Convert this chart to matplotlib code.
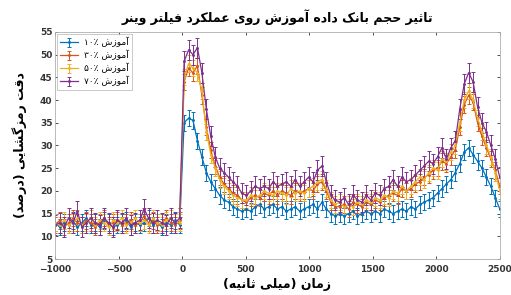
import numpy as np
import matplotlib
matplotlib.use("Agg")
import matplotlib.pyplot as plt

# ---------------- data ----------------
time_ms = np.arange(-1000, 2501, 35)  # 101 samples

acc_10 = [13, 12, 13, 12.5, 13.5, 12, 13, 14, 12.5, 13, 12, 13.5, 13, 12, 12.5, 13, 13.5, 12, 13, 12.5,
          13, 14, 12.5, 13, 12, 13, 12.5, 13.5, 12.5,
          35, 36, 35.5, 31, 27.5, 24, 22, 20.5, 19, 18, 17.5, 16.5, 16, 15.5, 16, 15.5, 16.5, 17, 16, 16.5,
          17, 16, 16.5, 15.5, 16, 16.5, 15.5, 16, 16.5, 17, 16, 17.5, 16, 15, 14.5, 15, 14.5, 15, 15.5,
          14.5, 15, 15.5, 15, 15.5, 15, 16, 15.5, 15, 15.5, 16, 15.5, 16.5, 16, 17, 17.5, 18, 18.5, 19.5,
          20.5, 21.5, 22.5, 24, 26, 28.5, 29.5, 28, 26.5, 25, 23, 21, 18.5, 16]
acc_30 = [12.5, 13.5, 12, 13, 14, 13, 12.5, 13.5, 13, 12, 13, 14, 12.5, 13, 13.5, 12.5, 13, 13.5, 12.5, 13,
          14.5, 13, 13.5, 12.5, 13, 14, 13, 12.5, 13.5,
          44, 47, 46, 47.5, 41, 34, 29, 25.5, 23, 21.5, 20.5, 19.5, 19, 18, 17.5, 18.5, 19, 18.5, 19.5, 19,
          20, 19, 20, 19.5, 19, 20, 19.5, 20, 20.5, 20, 21.5, 22, 20, 17.5, 16.5, 16.5, 17, 16, 17.5, 17,
          16.5, 17.5, 17, 18, 17.5, 18.5, 19, 19.5, 19, 20.5, 20, 20.5, 21.5, 22, 23, 23.5, 24.5, 25, 26.5,
          26, 27.5, 29, 34, 39, 41, 39.5, 35, 32, 29.5, 27, 24.5, 21]
acc_50 = [13, 12.5, 13.5, 12.5, 13, 14, 12.5, 13, 14, 12.5, 13.5, 13, 12, 13.5, 13, 14, 12.5, 13, 14, 13,
          13.5, 12.5, 14, 13, 12.5, 13.5, 14, 13, 13,
          45, 48, 47, 46, 42, 33, 28, 25, 22.5, 21, 20, 19, 18.5, 18, 18, 19, 18.5, 19, 20, 19.5, 19, 20,
          19.5, 19, 20.5, 19.5, 20, 19.5, 20.5, 21, 22, 22.5, 20.5, 18, 17, 17.5, 16.5, 17, 16.5, 17.5, 17,
          18, 17.5, 18.5, 18, 19, 18.5, 20, 19.5, 21, 20, 21, 22, 23, 22.5, 24, 25, 24.5, 27, 26.5, 28.5,
          30, 35, 40, 42, 40, 36, 33, 30, 27.5, 24, 20]
acc_70 = [12.5, 13, 12, 14, 13, 15.5, 12, 13, 14, 13, 12.5, 14, 13, 12, 13.5, 13, 14, 12.5, 13, 13.5, 16,
          14, 13, 13.5, 13, 12.5, 14, 13, 14,
          48.5, 51, 50, 51.5, 46, 38, 32, 27.5, 25, 24, 23, 22, 21, 19.5, 19, 20, 21, 20.5, 21, 20.5, 22,
          21, 21.5, 22, 21, 22.5, 21, 22, 23, 22, 24.5, 25.5, 22, 19, 18, 17.5, 18.5, 17, 19, 18, 17.5, 19,
          18, 19.5, 19, 20.5, 21, 22.5, 21, 23, 22, 22.5, 23.5, 24.5, 25.5, 26.5, 26, 27.5, 29.5, 27, 29.5,
          31, 38, 43.5, 46, 44, 38.5, 35, 33, 30, 27, 23]
err_10, err_30, err_50, err_70 = 1.8, 1.8, 1.8, 2.2

series_pct = ["۱۰", "۳۰", "۵۰", "۷۰"]
colors = ["#0072BD", "#D95319", "#EDB120", "#7E2F8E"]

xticks = [-1000, -500, 0, 500, 1000, 1500, 2000, 2500]
yticks = [5, 10, 15, 20, 25, 30, 35, 40, 45, 50, 55]

title_text = "تاثیر حجم بانک داده آموزش روی عملکرد فیلتر وینر"
xlabel_text = "زمان (میلی ثانیه)"
ylabel_text = "دقت رمزگشایی (درصد)"
legend_word = "آموزش"

# ---------------- minimal Arabic/Persian shaping ----------------
FORMS = {
    '\u0627': ('\uFE8D', '\uFE8E', None, None),
    '\u0622': ('\uFE81', '\uFE82', None, None),
    '\u0628': ('\uFE8F', '\uFE90', '\uFE91', '\uFE92'),
    '\u067E': ('\uFB56', '\uFB57', '\uFB58', '\uFB59'),
    '\u062A': ('\uFE95', '\uFE96', '\uFE97', '\uFE98'),
    '\u062B': ('\uFE99', '\uFE9A', '\uFE9B', '\uFE9C'),
    '\u062C': ('\uFE9D', '\uFE9E', '\uFE9F', '\uFEA0'),
    '\u0686': ('\uFB7A', '\uFB7B', '\uFB7C', '\uFB7D'),
    '\u062D': ('\uFEA1', '\uFEA2', '\uFEA3', '\uFEA4'),
    '\u062E': ('\uFEA5', '\uFEA6', '\uFEA7', '\uFEA8'),
    '\u062F': ('\uFEA9', '\uFEAA', None, None),
    '\u0630': ('\uFEAB', '\uFEAC', None, None),
    '\u0631': ('\uFEAD', '\uFEAE', None, None),
    '\u0632': ('\uFEAF', '\uFEB0', None, None),
    '\u0698': ('\uFB8A', '\uFB8B', None, None),
    '\u0633': ('\uFEB1', '\uFEB2', '\uFEB3', '\uFEB4'),
    '\u0634': ('\uFEB5', '\uFEB6', '\uFEB7', '\uFEB8'),
    '\u0635': ('\uFEB9', '\uFEBA', '\uFEBB', '\uFEBC'),
    '\u0639': ('\uFEC9', '\uFECA', '\uFECB', '\uFECC'),
    '\u0641': ('\uFED1', '\uFED2', '\uFED3', '\uFED4'),
    '\u0642': ('\uFED5', '\uFED6', '\uFED7', '\uFED8'),
    '\u06A9': ('\uFB8E', '\uFB8F', '\uFB90', '\uFB91'),
    '\u06AF': ('\uFB92', '\uFB93', '\uFB94', '\uFB95'),
    '\u0644': ('\uFEDD', '\uFEDE', '\uFEDF', '\uFEE0'),
    '\u0645': ('\uFEE1', '\uFEE2', '\uFEE3', '\uFEE4'),
    '\u0646': ('\uFEE5', '\uFEE6', '\uFEE7', '\uFEE8'),
    '\u0648': ('\uFEED', '\uFEEE', None, None),
    '\u0647': ('\uFEE9', '\uFEEA', '\uFEEB', '\uFEEC'),
    '\u06CC': ('\uFBFC', '\uFBFD', '\uFBFE', '\uFBFF'),
}
MIRROR = {'(': ')', ')': '('}


def shape_word(word):
    out = []
    n = len(word)
    for k, ch in enumerate(word):
        if ch not in FORMS:
            out.append(ch)
            continue
        prev = word[k - 1] if k > 0 else None
        nxt = word[k + 1] if k + 1 < n else None
        join_prev = prev in FORMS and FORMS[prev][2] is not None
        join_next = nxt in FORMS and FORMS[ch][2] is not None
        iso, fin, ini, med = FORMS[ch]
        if join_prev and join_next:
            out.append(med)
        elif join_prev:
            out.append(fin)
        elif join_next:
            out.append(ini)
        else:
            out.append(iso)
    return ''.join(out)


def rtl_word(text):
    shaped = shape_word(text)
    return ''.join(MIRROR.get(c, c) for c in reversed(shaped))


def rtl(sentence):
    return ' '.join(rtl_word(w) for w in reversed(sentence.split()))


# ---------------- figure ----------------
plt.rcParams['font.family'] = ['DejaVu Sans']
fig = plt.figure(figsize=(5.11, 2.95), dpi=100)
ax = fig.add_axes([0.108, 0.122, 0.870, 0.770])

series = [acc_10, acc_30, acc_50, acc_70]
errs = [err_10, err_30, err_50, err_70]
for vals, e, pct, c in zip(series, errs, series_pct, colors):
    label = pct + "٪ " + rtl_word(legend_word)
    ax.errorbar(time_ms, vals, yerr=e, color=c, lw=0.9, elinewidth=0.7, capsize=1.2,
                capthick=0.7, marker='.', ms=2.2, label=label)

ax.set_xlim(-1000, 2500)
ax.set_ylim(5, 55)
ax.set_xticks(xticks)
ax.set_yticks(yticks)
ax.tick_params(direction='in', length=2.5, width=0.6, labelsize=6.5, colors='#333333',
               top=True, right=True)
ax.tick_params(axis='x', pad=4)
ax.tick_params(axis='y', pad=2)
for lbl in ax.get_xticklabels() + ax.get_yticklabels():
    lbl.set_fontweight('bold')
for s in ax.spines.values():
    s.set_color('#b0b0b0')
    s.set_linewidth(0.6)

ax.set_title(rtl(title_text), fontsize=9, fontweight='bold', pad=7)
ax.set_xlabel(rtl(xlabel_text), fontsize=9, fontweight='bold', labelpad=3)
ax.set_ylabel(rtl(ylabel_text), fontsize=9, fontweight='bold', labelpad=9)

leg = ax.legend(loc='upper left', fontsize=6.5, frameon=True, fancybox=False, edgecolor='#b0b0b0',
                handlelength=2.0, borderpad=0.35, labelspacing=0.3, handletextpad=0.6,
                borderaxespad=0.2)
leg.get_frame().set_linewidth(0.6)

fig.savefig("out.png", dpi=100)
